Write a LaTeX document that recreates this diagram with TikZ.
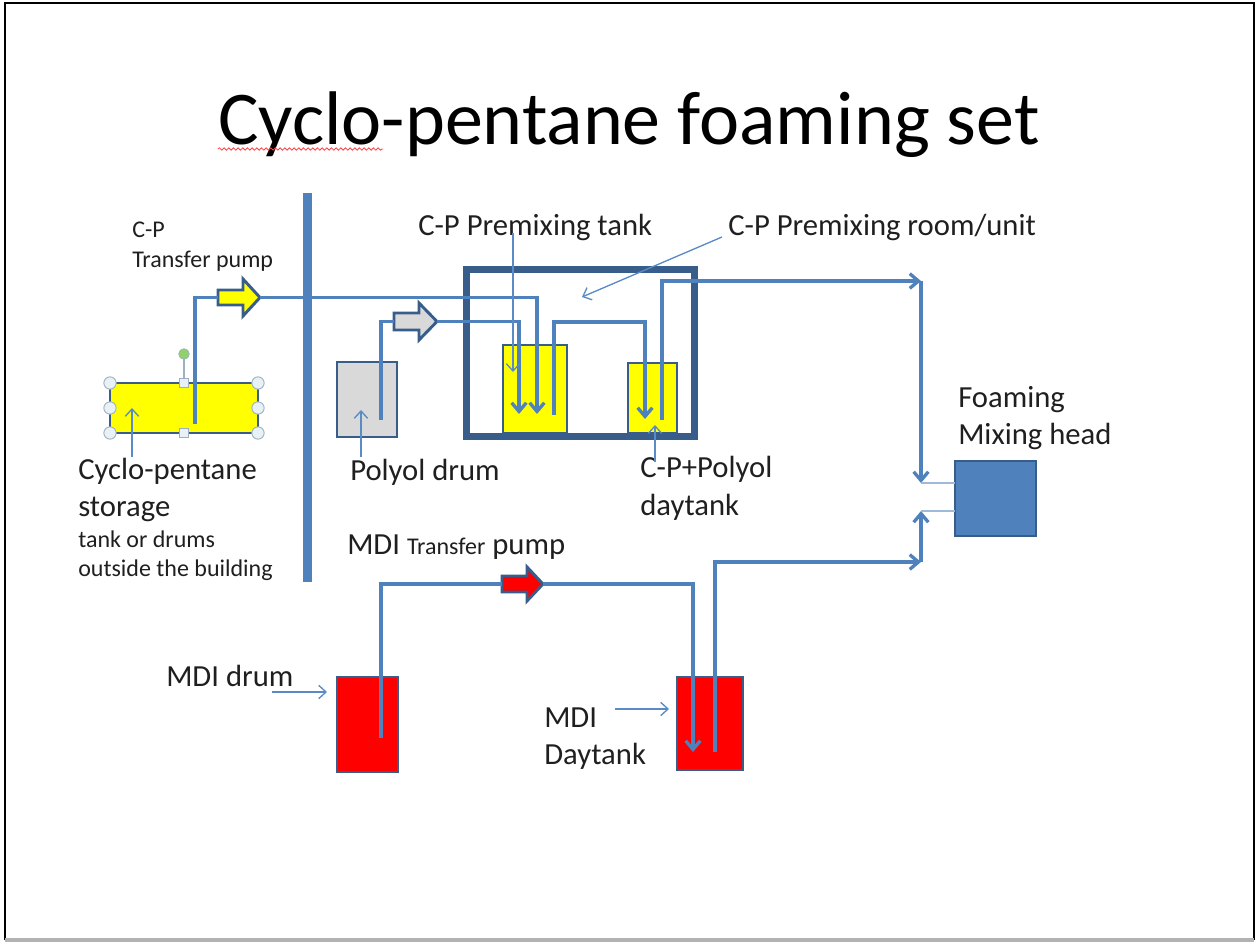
\documentclass[tikz,border=0pt]{standalone}
\usepackage{fontspec}
\setmainfont{Carlito}
\usetikzlibrary{arrows.meta,decorations.pathmorphing}
\definecolor{pipe}{HTML}{4F81BD}
\definecolor{edge}{HTML}{385D8A}
\definecolor{pointer}{HTML}{5B8BC6}
\definecolor{cpyellow}{HTML}{FFFF00}
\definecolor{drumgray}{HTML}{D9D9D9}
\definecolor{handlefill}{HTML}{E8F1F5}
\definecolor{handleedge}{HTML}{9DB0C2}
\definecolor{rotgreen}{HTML}{8FD16B}
\begin{document}
\begin{tikzpicture}[x=0.75pt,y=-0.75pt,
  tank/.style={draw=edge, line width=1.9pt, inner sep=0pt, outer sep=0pt},
  pipeline/.style={draw=pipe, line width=2.5pt},
  pipearrow/.style={pipeline, -{Straight Barb[length=6.5pt,width=11pt]}},
  feed/.style={draw=pipe!55, line width=1.2pt},
  pointer/.style={draw=pointer, line width=1pt, -{Straight Barb[length=5.5pt,width=10pt]}},
  lbl/.style={anchor=base west, inner sep=0pt, font=\fontsize{23}{28}\selectfont, text=black!88},
  small/.style={anchor=base west, inner sep=0pt, font=\fontsize{18}{22}\selectfont, text=black!88},
  pump/.style={draw=edge, line width=2.2pt, line join=miter},
  handle/.style={draw=handleedge, fill=handlefill, line width=0.7pt}
]
\useasboundingbox (0,0) rectangle (1258,944);
% slide frame
\draw[black, line width=2.2pt] (5,940) -- (5,3) -- (1254,3) -- (1254,940);
\draw[gray!60, line width=2.5pt] (5,940) -- (1254,940);

% title
\node[anchor=base, inner sep=0pt, font=\fontsize{57}{60}\selectfont] (title) at (629,145) {Cyclo-pentane foaming set};
\draw[red!75, line width=0.6pt, decorate, decoration={snake, amplitude=0.9pt, segment length=3.5pt}] (218,149) -- (383,149);

% dividing wall
\coordinate (wallt) at (307.5,193);
\coordinate (wallb) at (307.5,582);
\draw[pipe, line width=6.75pt] (wallt) -- (wallb);

% room
\node[draw=edge, line width=5.25pt, minimum width=171pt, minimum height=125.25pt, inner sep=0pt] (room) at (580.5,353) {};

% tanks
\node[tank, fill=cpyellow, minimum width=111pt, minimum height=37.5pt] (store) at (184,408) {};
\node[tank, fill=drumgray, minimum width=45pt, minimum height=56.25pt] (polyol) at (367,399.5) {};
\node[tank, fill=cpyellow, minimum width=48pt, minimum height=66pt] (premix) at (535,389) {};
\node[tank, fill=cpyellow, minimum width=36.75pt, minimum height=52.5pt] (daytank) at (652.5,398) {};
\node[tank, fill=red, minimum width=45.75pt, minimum height=71.25pt] (mdidrum) at (367.5,724.5) {};
\node[tank, fill=red, minimum width=49.5pt, minimum height=69.75pt] (mdiday) at (710,723.5) {};
\node[tank, fill=pipe, minimum width=60.75pt, minimum height=56.25pt] (mix) at (995.5,498.5) {};

% selection handles on storage tank
\draw[handleedge, line width=0.9pt] (184,383) -- (184,357);
\fill[rotgreen, draw=handleedge, line width=0.5pt] (184,354) circle[radius=4pt];
\foreach \p in {(110,383),(258,383),(110,433),(258,433),(110,408),(258,408)}
  \draw[handle] \p circle[radius=4.6pt];
\foreach \p in {(184,383),(184,433)}
  \node[handle, minimum size=6.5pt, inner sep=0pt] at \p {};

% pumps
\coordinate (ypin) at (218,297.5);
\coordinate (ypout) at (260,297.5);
\draw[pump, fill=cpyellow] (218,290) -- (243,290) -- (243,279) -- (ypout) -- (243,316) -- (243,305) -- (218,305) -- cycle;
\coordinate (gpin) at (394,321.5);
\coordinate (gpout) at (437,321.5);
\draw[pump, fill=drumgray] (394,313) -- (419,313) -- (419,303) -- (gpout) -- (419,340) -- (419,330) -- (394,330) -- cycle;
\coordinate (rpin) at (502,584);
\coordinate (rpout) at (543,584);
\draw[pump, fill=red] (502,576) -- (527,576) -- (527,567) -- (rpout) -- (527,601) -- (527,592) -- (502,592) -- cycle;

% pipe points
\coordinate (s1) at (195,424);
\coordinate (pt1) at (537,414);
\coordinate (p1) at (381,420);
\coordinate (pt2) at (519,414);
\coordinate (pm1) at (554,415);
\coordinate (pm2) at (554,322);
\coordinate (dt1) at (645,419);
\coordinate (dt2) at (662,420);
\coordinate (j1) at (921,281);
\coordinate (j2) at (921,483);
\coordinate (m1) at (381,738);
\coordinate (md1) at (693,752);
\coordinate (md2) at (715,752);
\coordinate (j3) at (921,562);
\coordinate (j4) at (921,511);

% C-P line
\draw[pipeline] (s1) |- (ypin);
\draw[pipearrow] (ypout) -| (pt1);
% polyol line
\draw[pipeline] (p1) |- (gpin);
\draw[pipearrow] (gpout) -| (pt2);
% premix to daytank
\draw[pipearrow] (pm1) -- (pm2) -| (dt1);
% daytank to mixing head
\draw[pipearrow] (dt2) |- (j1);
\draw[pipearrow] (j1) -- (j2);
\draw[feed] (921,483) -- (mix.west |- 0,483);
% MDI line
\draw[pipeline] (m1) |- (rpin);
\draw[pipearrow] (rpout) -| (md1);
\draw[pipearrow] (md2) |- (j3);
\draw[pipearrow] (j3) -- (j4);
\draw[feed] (921,511) -- (mix.west |- 0,511);

% labels
\node[small] (lcp) at (132,238) {C-P};
\node[small] (ltp) at (132,268) {Transfer pump};
\node[lbl] (lpremix) at (418,236) {C-P Premixing tank};
\node[lbl] (lroom) at (728,236) {C-P Premixing room/unit};
\node[lbl] (lfoam) at (958,408) {Foaming};
\node[lbl] (lmixh) at (958,445) {Mixing head};
\node[lbl] (lcyc) at (78,480) {Cyclo-pentane};
\node[lbl] (lsto) at (78,517) {storage};
\node[small] (ltank) at (78,548) {tank or drums};
\node[small] (lout) at (78,577) {outside the building};
\node[lbl] (lpol) at (350,481) {Polyol drum};
\node[lbl] (lcpp) at (640,478) {C-P+Polyol};
\node[lbl] (lday) at (640,516) {daytank};
\node[lbl] (lmditp) at (347,555) {MDI {\fontsize{18}{22}\selectfont Transfer} pump};
\node[lbl] (lmdid) at (166,687) {MDI drum};
\node[lbl] (lmdi) at (544,728) {MDI};
\node[lbl] (lmdiday) at (544,765) {Daytank};

% pointers
\coordinate (a1) at (132,457);
\coordinate (a1t) at (132,408);
\draw[pointer] (a1) -- (a1t);
\coordinate (a2) at (361,457);
\coordinate (a2t) at (361,410);
\draw[pointer] (a2) -- (a2t);
\coordinate (a3) at (513,233);
\coordinate (a3t) at (513,372);
\draw[pointer] (a3) -- (a3t);
\coordinate (a4) at (722,237);
\coordinate (a4t) at (582,297);
\draw[pointer] (a4) -- (a4t);
\coordinate (a5) at (655,462);
\coordinate (a5t) at (655,425);
\draw[pointer] (a5) -- (a5t);
\coordinate (a6) at (272,692);
\coordinate (a6t) at (327,692);
\draw[pointer] (a6) -- (a6t);
\coordinate (a7) at (615,709);
\coordinate (a7t) at (669,709);
\draw[pointer] (a7) -- (a7t);
\end{tikzpicture}
\end{document}
